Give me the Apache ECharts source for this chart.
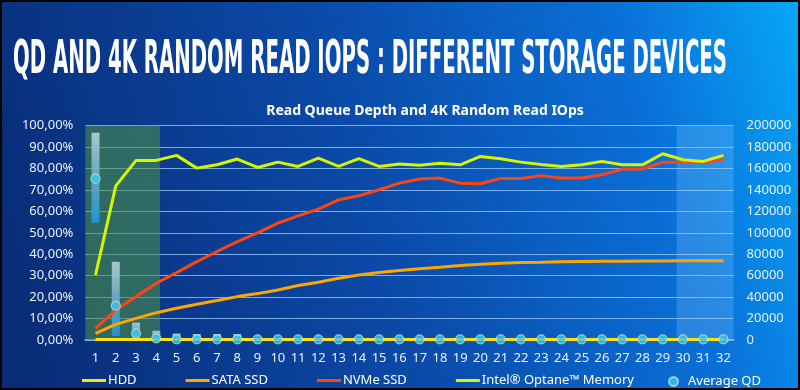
<!DOCTYPE html>
<html><head><meta charset="utf-8">
<script src="https://cdn.jsdelivr.net/npm/echarts@6/dist/echarts.min.js"></script>
<style>
html,body{margin:0;padding:0;background:#000;}
#c{width:800px;height:390px;position:absolute;left:0;top:0;}
#f{position:absolute;left:0;top:0;width:800px;height:390px;box-sizing:border-box;border:2px solid #000;pointer-events:none;}
</style>
</head><body><div id="c"></div><div id="f"></div>
<script>
// ---- data ----
const categories = ['1','2','3','4','5','6','7','8','9','10','11','12','13','14','15','16','17','18','19','20','21','22','23','24','25','26','27','28','29','30','31','32'];
const hdd    = [400,400,400,400,400,400,400,400,400,400,400,400,400,400,400,400,400,400,400,400,400,400,400,400,400,400,400,400,400,400,400,400];
const sata   = [6200,14600,20200,25500,29600,33300,36800,40500,43300,46700,50800,53900,57600,60700,62900,64800,66400,67900,69500,70700,71600,72300,72600,73000,73300,73500,73600,73700,73800,73900,74000,74000];
const nvme   = [10900,28000,40500,53000,62900,73200,82600,91900,100000,109000,115900,122100,130800,134600,140200,146400,150200,151100,146400,145800,150800,150800,153400,151100,151100,154200,159500,159500,166000,166000,166000,168200];
const optane = [60700,143900,167600,167600,172300,160400,163500,168900,161000,166000,162000,169800,162000,169200,162000,164200,163000,165000,163500,171300,169200,166000,163800,162000,163500,166700,163500,163500,173800,168200,166700,172300];
// Average QD (left axis, percent): range bar low/high and average dot
const qdLow  = [54.7,1.9,0.5,0,0,0,0,0,0,0,0,0,0,0,0,0,0,0,0,0,0,0,0,0,0,0,0,0,0,0,0,0];
const qdHigh = [96.7,36.5,8.1,4.3,3.0,2.8,2.8,2.8,0,0,0,0,0,0,0,0,0,0,0,0,0,0,0,0,0,0,0,0,0,0,0,0];
const qdAvg  = [75.3,16.0,3.1,0.8,0.3,0.3,0.3,0.3,0.3,0.3,0.3,0.3,0.3,0.3,0.3,0.3,0.3,0.3,0.3,0.3,0.3,0.3,0.3,0.3,0.3,0.3,0.3,0.3,0.3,0.3,0.3,0.3];
// shaded zones, in category units (1 = first category)
const zoneLow  = [0.5, 4.18];
const zoneHigh = [29.69, 32.5];
const titleText = 'QD AND 4K RANDOM READ IOPS : DIFFERENT STORAGE DEVICES';
const subTitle = 'Read Queue Depth and 4K Random Read IOps';
const legendLines = ['HDD','SATA SSD','NVMe SSD','Intel® Optane™ Memory'];

// ---- chart ----
const titleFont = 'bold 47px "DejaVu Sans Condensed","DejaVu Sans"';
const cv = document.createElement('canvas').getContext('2d');
cv.font = titleFont;
const tw = cv.measureText(titleText).width;
const sx = 714 / tw;

const chart = echarts.init(document.getElementById('c'), null, {renderer:'canvas'});
const labelColor = '#e8f1ff';
const gridColor = 'rgba(150,200,250,0.8)';
const rangeData = qdHigh.map((h,i)=> +(h - qdLow[i]).toFixed(2));

chart.setOption({
  animation:false,
  backgroundColor:{type:'linear',x:0,y:0.7,x2:1,y2:0.1,colorStops:[
    {offset:0,color:'#092c76'},{offset:0.45,color:'#0b4aa8'},{offset:0.8,color:'#0a70d8'},{offset:1,color:'#06a4f6'}]},
  graphic:[
    {type:'text',left:13,top:37,scaleX:sx,
     style:{text:titleText,font:titleFont,fill:'#ffffff'}},
  ],
  title:{text:subTitle,left:420,top:99,textAlign:'center',
    textStyle:{color:'#ffffff',fontFamily:'Noto Sans',fontWeight:'bold',fontSize:14}},
  legend:[
    {data:legendLines,left:82,top:374,padding:0,icon:'rect',itemWidth:24,itemHeight:3,itemGap:49,
     textStyle:{color:'#ffffff',fontFamily:'Noto Sans',fontSize:13,padding:[0,0,0,-3]}},
    {data:['Average QD'],left:668,top:375,padding:0,icon:'circle',itemWidth:9,itemHeight:9,
     textStyle:{color:'#ffffff',fontFamily:'Noto Sans',fontSize:13,padding:[0,0,0,5]}}
  ],
  grid:{left:85.4,right:66.4,top:125.7,bottom:50},
  xAxis:[
    {type:'category',data:categories,boundaryGap:true,
     axisLine:{show:true,lineStyle:{color:'#7fb3ee',width:2}},axisTick:{show:false},
     axisLabel:{color:labelColor,fontFamily:'Noto Sans',fontSize:13,margin:12,interval:0}},
    {type:'value',min:0.5,max:32.5,show:false}
  ],
  yAxis:[
    {type:'value',min:0,max:100,interval:10,
     axisLabel:{color:labelColor,fontFamily:'Noto Sans',fontSize:13,margin:12,
       formatter:v=>v.toFixed(2).replace('.',',')+'%'},
     axisLine:{show:false},axisTick:{show:false},
     splitLine:{lineStyle:{color:gridColor,width:1}}},
    {type:'value',min:0,max:200000,interval:20000,
     axisLabel:{color:labelColor,fontFamily:'Noto Sans',fontSize:13,margin:13,formatter:v=>String(v)},
     axisLine:{show:false},axisTick:{show:false},splitLine:{show:false}}
  ],
  series:[
    {name:'zones',type:'line',xAxisIndex:1,yAxisIndex:0,data:[[1,0]],symbol:'none',
     lineStyle:{opacity:0},silent:true,z:1,
     markArea:{silent:true,data:[
       [{xAxis:zoneLow[0],itemStyle:{color:'rgba(78,150,70,0.55)'}},{xAxis:zoneLow[1]}],
       [{xAxis:zoneHigh[0],itemStyle:{color:'rgba(140,205,255,0.25)'}},{xAxis:zoneHigh[1]}]
     ]}},
    {name:'qdBase',type:'bar',stack:'qd',yAxisIndex:0,barWidth:8,data:qdLow,
     itemStyle:{color:'rgba(0,0,0,0)'},silent:true,z:3},
    {name:'qdRange',type:'bar',stack:'qd',yAxisIndex:0,barWidth:8,data:rangeData,silent:true,z:3,
     itemStyle:{color:{type:'linear',x:0,y:0,x2:0,y2:1,colorStops:[
       {offset:0,color:'rgba(190,215,225,0.85)'},{offset:0.5,color:'rgba(110,175,205,0.85)'},{offset:1,color:'rgba(30,150,215,0.95)'}]}}},
    {name:'HDD',type:'line',yAxisIndex:1,data:hdd,symbol:'none',lineStyle:{color:'#ffe20a',width:3},itemStyle:{color:'#ffe20a'},z:5},
    {name:'SATA SSD',type:'line',yAxisIndex:1,data:sata,symbol:'none',lineStyle:{color:'#ffa500',width:3},itemStyle:{color:'#ffa500'},z:5},
    {name:'NVMe SSD',type:'line',yAxisIndex:1,data:nvme,symbol:'none',lineStyle:{color:'#ff4410',width:3},itemStyle:{color:'#ff4410'},z:5},
    {name:'Intel® Optane™ Memory',type:'line',yAxisIndex:1,data:optane,symbol:'none',lineStyle:{color:'#d6f500',width:3},itemStyle:{color:'#d6f500'},z:5},
    {name:'Average QD',type:'scatter',yAxisIndex:0,data:qdAvg,symbol:'circle',symbolSize:9,z:8,
     itemStyle:{color:'#38c4f2',borderColor:'rgba(220,235,190,0.85)',borderWidth:1.2}}
  ]
});
</script></body></html>
